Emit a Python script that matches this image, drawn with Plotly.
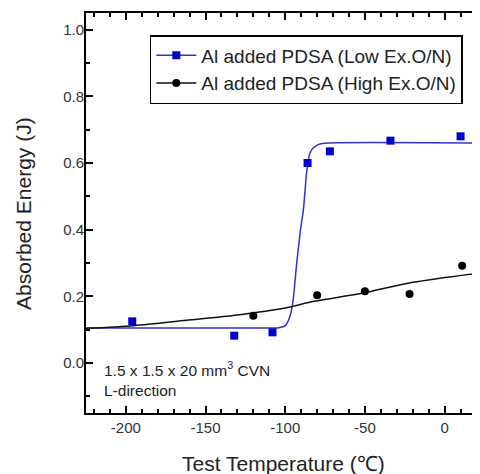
import plotly.graph_objects as go

# measured points
low_x = [-196, -132, -108, -86, -72, -34, 10]
low_y = [0.125, 0.082, 0.092, 0.600, 0.635, 0.667, 0.680]
high_x = [-120, -80, -50, -22, 11]
high_y = [0.142, 0.203, 0.215, 0.207, 0.292]

# fitted curves
low_fit_x = [-225, -120, -104, -100, -97, -95, -93, -90.7, -88.6, -86.6, -84.5, -82.4, -79, -73, 25]
low_fit_y = [0.105, 0.105, 0.106, 0.112, 0.14, 0.19, 0.29, 0.39, 0.46, 0.57, 0.63, 0.645, 0.656, 0.66, 0.66]
high_fit_x = [-225, -195, -162, -130, -100, -82, -51, -20, 25]
high_fit_y = [0.104, 0.112, 0.128, 0.144, 0.165, 0.185, 0.21, 0.242, 0.272]

# tick labels (plain hyphen minus, as in the original)
x_ticks = [-200, -150, -100, -50, 0]
x_tick_text = ["-200", "-150", "-100", "-50", "0"]

BLUE = "#0000cc"
BLUE_LINE = "#3333cc"
FONT = "Arial, Liberation Sans, sans-serif"

fig = go.Figure()

fig.add_trace(go.Scatter(x=low_fit_x, y=low_fit_y, mode="lines", showlegend=False,
                         line=dict(color=BLUE_LINE, width=1.5, shape="spline", smoothing=0.6)))
fig.add_trace(go.Scatter(x=high_fit_x, y=high_fit_y, mode="lines", showlegend=False,
                         line=dict(color="#111111", width=1.5, shape="spline", smoothing=0.8)))
fig.add_trace(go.Scatter(x=low_x, y=low_y, mode="markers", showlegend=False,
                         marker=dict(symbol="square", size=8, color=BLUE)))
fig.add_trace(go.Scatter(x=high_x, y=high_y, mode="markers", showlegend=False,
                         marker=dict(symbol="circle", size=8, color="#000000")))

# legend entries (line + symbol)
fig.add_trace(go.Scatter(x=[None], y=[None], mode="lines+markers", name="Al added PDSA (Low Ex.O/N)",
                         line=dict(color=BLUE_LINE, width=1.5),
                         marker=dict(symbol="square", size=8, color=BLUE)))
fig.add_trace(go.Scatter(x=[None], y=[None], mode="lines+markers", name="Al added PDSA (High Ex.O/N)",
                         line=dict(color="#111111", width=1.5),
                         marker=dict(symbol="circle", size=8, color="#000000")))

fig.add_annotation(xref="paper", yref="paper", x=0.04, y=0.14, xanchor="left", yanchor="top",
                   align="left", showarrow=False,
                   text="1.5 x 1.5 x 20 mm<sup>3</sup> CVN<br>L-direction",
                   font=dict(family=FONT, size=15.5, color="#222222"))

# axis titles
fig.add_annotation(xref="paper", yref="paper", x=0.5, y=-0.125, xanchor="center", yanchor="middle",
                   showarrow=False, text="Test Temperature (℃)",
                   font=dict(family=FONT, size=21, color="#222222"))
fig.add_annotation(xref="paper", yref="paper", x=-0.16, y=0.5, xanchor="center", yanchor="middle",
                   showarrow=False, text="Absorbed Energy (J)", textangle=-90,
                   font=dict(family=FONT, size=21, color="#222222"))

# the page body adds an 8px margin, so the figure is sized to the visible area
fig.update_layout(
    width=472, height=466,
    margin=dict(l=78, r=0, t=5, b=61, autoexpand=False),
    paper_bgcolor="#ffffff", plot_bgcolor="#ffffff",
    font=dict(family=FONT, color="#333333"),
    showlegend=True,
    legend=dict(x=0.162, y=0.945, xanchor="left", yanchor="top",
                bordercolor="#000000", borderwidth=1.5, bgcolor="#ffffff",
                font=dict(family=FONT, size=19, color="#222222"),
                itemwidth=40, tracegroupgap=0),
    xaxis=dict(range=[-225, 22.2], tickvals=x_ticks, ticktext=x_tick_text, automargin=False,
               showline=True, linecolor="#000000", linewidth=2, mirror="ticks",
               ticks="inside", ticklen=7, tickwidth=1.5, tickcolor="#000000",
               minor=dict(dtick=10, tick0=0, ticks="inside", ticklen=4, tickwidth=1.5, tickcolor="#000000"),
               showgrid=False, zeroline=False,
               tickfont=dict(size=15, color="#333333")),
    yaxis=dict(range=[-0.15, 1.05], dtick=0.2, tick0=0, tickformat=".1f", automargin=False,
               showline=True, linecolor="#000000", linewidth=2,
               ticks="inside", ticklen=7, tickwidth=1.5, tickcolor="#000000",
               minor=dict(dtick=0.1, ticks="inside", ticklen=4, tickwidth=1.5, tickcolor="#000000"),
               showgrid=False, zeroline=False, ticklabelstandoff=-3,
               tickfont=dict(size=15, color="#333333")),
    yaxis2=dict(range=[-0.15, 1.05], dtick=0.2, tick0=0, overlaying="y", side="right",
                showline=False, showticklabels=False, showgrid=False, zeroline=False, automargin=False,
                ticks="inside", ticklen=4, tickwidth=1.5, tickcolor="#000000"),
)

fig.write_html("out.html")
